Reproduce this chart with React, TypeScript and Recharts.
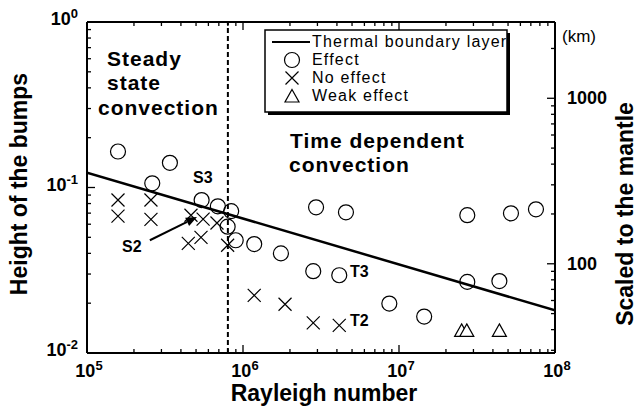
import React from "react";
import { ComposedChart, XAxis, YAxis, Scatter, ReferenceLine } from "recharts";

// plate experiments: bump height vs Rayleigh number
const EFFECT = [
  { x: 1.58e5, y: 0.165 }, { x: 3.4e5, y: 0.141 }, { x: 2.62e5, y: 0.106 },
  { x: 5.43e5, y: 0.084 }, { x: 6.9e5, y: 0.077 }, { x: 8.4e5, y: 0.072 },
  { x: 7.97e5, y: 0.058 }, { x: 8.98e5, y: 0.048 }, { x: 1.18e6, y: 0.0455 },
  { x: 1.75e6, y: 0.04 }, { x: 2.94e6, y: 0.0759 }, { x: 4.57e6, y: 0.0708 },
  { x: 2.82e6, y: 0.0312 }, { x: 4.14e6, y: 0.0295 }, { x: 8.67e6, y: 0.0199 },
  { x: 1.45e7, y: 0.0166 }, { x: 2.74e7, y: 0.068 }, { x: 5.22e7, y: 0.0698 },
  { x: 7.55e7, y: 0.0738 }, { x: 2.74e7, y: 0.0269 }, { x: 4.4e7, y: 0.0272 },
];
const NO_EFFECT = [
  { x: 1.58e5, y: 0.084 }, { x: 1.58e5, y: 0.0672 }, { x: 2.57e5, y: 0.084 },
  { x: 2.57e5, y: 0.0642 }, { x: 4.64e5, y: 0.068 }, { x: 5.55e5, y: 0.0644 },
  { x: 6.81e5, y: 0.061 }, { x: 4.46e5, y: 0.046 }, { x: 5.38e5, y: 0.05 },
  { x: 7.97e5, y: 0.0448 }, { x: 1.18e6, y: 0.0223 }, { x: 1.86e6, y: 0.0197 },
  { x: 2.82e6, y: 0.0152 }, { x: 4.14e6, y: 0.0147 },
];
const WEAK = [{ x: 2.52e7, y: 0.0137 }, { x: 2.72e7, y: 0.0137 }, { x: 4.4e7, y: 0.0137 }];
const TBL = [{ x: 1e5, y: 0.123 }, { x: 1e8, y: 0.0181 }];
const RA_SPLIT = 8e5;
const ARROW_S2 = [{ x: 2.53e5, y: 0.048 }, { x: 5.07e5, y: 0.0663 }];

const decades = (lo: number, hi: number) => {
  const out: number[] = [];
  for (let e = lo; e < hi; e++) for (let m = 1; m <= 9; m++) out.push(m * 10 ** e);
  out.push(10 ** hi);
  return out;
};
const X_TICKS = decades(5, 8);
const Y_TICKS = decades(-2, 0);
const KM_TICKS = [30, 40, 50, 60, 70, 80, 90, 100, 200, 300, 400, 500, 600, 700, 800, 900, 1000, 2000];
const KM_LABELS = [100, 1000];
const KM_DOMAIN = [28.9, 2890];

const FONT = "'Liberation Sans', Arial, Helvetica, sans-serif";

const isMajor = (v: number) => Math.abs(Math.log10(v) - Math.round(Math.log10(v))) < 1e-6;

function Pow({ e, ...rest }: any) {
  return (
    <text fontFamily={FONT} fontWeight="bold" fontSize={18} fill="#000" {...rest}>
      10<tspan dy={-7} fontSize={13}>{e}</tspan>
    </text>
  );
}

function XTick({ x, y, payload, side }: any) {
  const v = payload.value;
  const major = isMajor(v);
  const len = major ? 8 : 4;
  const dir = side === "bottom" ? -1 : 1;
  return (
    <g>
      <line x1={x} y1={y} x2={x} y2={y + dir * len} stroke="#000" strokeWidth={1.3} />
      {side === "bottom" && major && (
        <Pow x={x + 2} y={y + 24} textAnchor="middle" e={Math.round(Math.log10(v))} />
      )}
    </g>
  );
}

function YTick({ x, y, payload, side }: any) {
  const v = payload.value;
  const major = side === "left" ? isMajor(v) : KM_LABELS.includes(v);
  const len = major ? 8 : 4;
  const dir = side === "left" ? 1 : -1;
  return (
    <g>
      <line x1={x} y1={y} x2={x + dir * len} y2={y} stroke="#000" strokeWidth={1.3} />
      {side === "left" && major && (
        <Pow x={x - 9} y={y + 3} textAnchor="end" e={Math.round(Math.log10(v))} />
      )}
      {side === "right" && major && (
        <text x={x + 12} y={y + 6} fontFamily={FONT} fontWeight="bold" fontSize={18} fill="#000">{v}</text>
      )}
    </g>
  );
}

const Circle = ({ cx, cy }: any) => <circle cx={cx} cy={cy} r={7.5} fill="none" stroke="#000" strokeWidth={1.2} />;
const Cross = ({ cx, cy }: any) => (
  <path d={`M${cx - 6.5},${cy - 6.5}L${cx + 6.5},${cy + 6.5}M${cx - 6.5},${cy + 6.5}L${cx + 6.5},${cy - 6.5}`}
    stroke="#000" strokeWidth={1.2} fill="none" />
);
const Tri = ({ cx, cy }: any) => (
  <path d={`M${cx},${cy - 6.5}L${cx + 7},${cy + 6}L${cx - 7},${cy + 6}Z`} stroke="#000" strokeWidth={1.2} fill="#fff" />
);

function Arrow({ x1, y1, x2, y2 }: any) {
  const a = Math.atan2(y2 - y1, x2 - x1);
  const L = 11, W = 4.5;
  const bx = x2 - L * Math.cos(a), by = y2 - L * Math.sin(a);
  const px = -Math.sin(a) * W, py = Math.cos(a) * W;
  return (
    <g>
      <line x1={x1} y1={y1} x2={bx} y2={by} stroke="#000" strokeWidth={2} />
      <polygon points={`${x2},${y2} ${bx + px},${by + py} ${bx - px},${by - py}`} fill="#000" />
    </g>
  );
}

const frame = { stroke: "#000", strokeWidth: 2 };

export default function App() {
  return (
    <div style={{ position: "absolute", left: 0, top: 0, width: 637, height: 408, background: "#fff" }}>
      <ComposedChart width={637} height={408} margin={{ top: 12, right: 42, bottom: 25, left: 47 }}>
        <XAxis xAxisId="b" type="number" dataKey="x" scale="log" domain={[1e5, 1e8]} allowDataOverflow
          ticks={X_TICKS} interval={0} tickSize={0} tickMargin={0} tickLine={false}
          tick={<XTick side="bottom" />} axisLine={frame} height={30} />
        <XAxis xAxisId="t" orientation="top" type="number" dataKey="x" scale="log" domain={[1e5, 1e8]} allowDataOverflow
          ticks={X_TICKS} interval={0} tickSize={0} tickMargin={0} tickLine={false}
          tick={<XTick side="top" />} axisLine={frame} height={10} />
        <YAxis yAxisId="l" type="number" dataKey="y" scale="log" domain={[0.01, 1]} allowDataOverflow
          ticks={Y_TICKS} interval={0} tickSize={0} tickMargin={0} tickLine={false}
          tick={<YTick side="left" />} axisLine={frame} width={40} />
        <YAxis yAxisId="r" orientation="right" type="number" scale="log" domain={KM_DOMAIN} allowDataOverflow
          ticks={KM_TICKS} interval={0} tickSize={0} tickMargin={0} tickLine={false}
          tick={<YTick side="right" />} axisLine={frame} width={40} />
        <ReferenceLine xAxisId="b" yAxisId="l" x={RA_SPLIT} stroke="#000" strokeWidth={2} strokeDasharray="5 3" />
        <Scatter xAxisId="b" yAxisId="l" data={TBL} line={{ stroke: "#000", strokeWidth: 2.5 }}
          shape={() => <g />} isAnimationActive={false} />
        <Scatter xAxisId="b" yAxisId="l" data={NO_EFFECT} shape={Cross} isAnimationActive={false} />
        <Scatter xAxisId="b" yAxisId="l" data={EFFECT} shape={Circle} isAnimationActive={false} />
        <Scatter xAxisId="b" yAxisId="l" data={WEAK} shape={Tri} isAnimationActive={false} />
        <ReferenceLine xAxisId="b" yAxisId="l" segment={ARROW_S2} shape={Arrow} />
      </ComposedChart>
      <svg width={637} height={408} style={{ position: "absolute", left: 0, top: 0, pointerEvents: "none" }}
        fontFamily={FONT} fill="#000">
        <g fontWeight="bold" fontSize={21} letterSpacing={1}>
          <text x={107} y={66}>Steady</text>
          <text x={107} y={90}>state</text>
          <text x={98} y={115}>convection</text>
          <text x={290} y={148}>Time dependent</text>
          <text x={289} y={172}>convection</text>
        </g>
        <g fontWeight="bold" fontSize={16}>
          <text x={193} y={183}>S3</text>
          <text x={122} y={252}>S2</text>
          <text x={350} y={277}>T3</text>
          <text x={350} y={326}>T2</text>
        </g>
        <g fontWeight="bold" fontSize={23}>
          <text x={324} y={401} textAnchor="middle">Rayleigh number</text>
          <text transform="translate(27,184) rotate(-90)" textAnchor="middle">Height of the bumps</text>
          <text transform="translate(633,214) rotate(-90)" textAnchor="middle">Scaled to the mantle</text>
        </g>
        <text x={562} y={42} fontSize={17}>(km)</text>
        <rect x={268} y={33} width={242} height={82} fill="#000" />
        <rect x={265} y={30} width={242} height={82} fill="#fff" stroke="#000" strokeWidth={1.5} />
        <line x1={272} y1={42} x2={310} y2={42} stroke="#000" strokeWidth={2} />
        <Circle cx={292} cy={60} />
        <Cross cx={292} cy={78} />
        <Tri cx={292} cy={96} />
        <g fontSize={16} letterSpacing={1.2}>
          <text x={312} y={47}>Thermal boundary layer</text>
          <text x={312} y={65}>Effect</text>
          <text x={312} y={83}>No effect</text>
          <text x={312} y={101}>Weak effect</text>
        </g>
      </svg>
    </div>
  );
}
